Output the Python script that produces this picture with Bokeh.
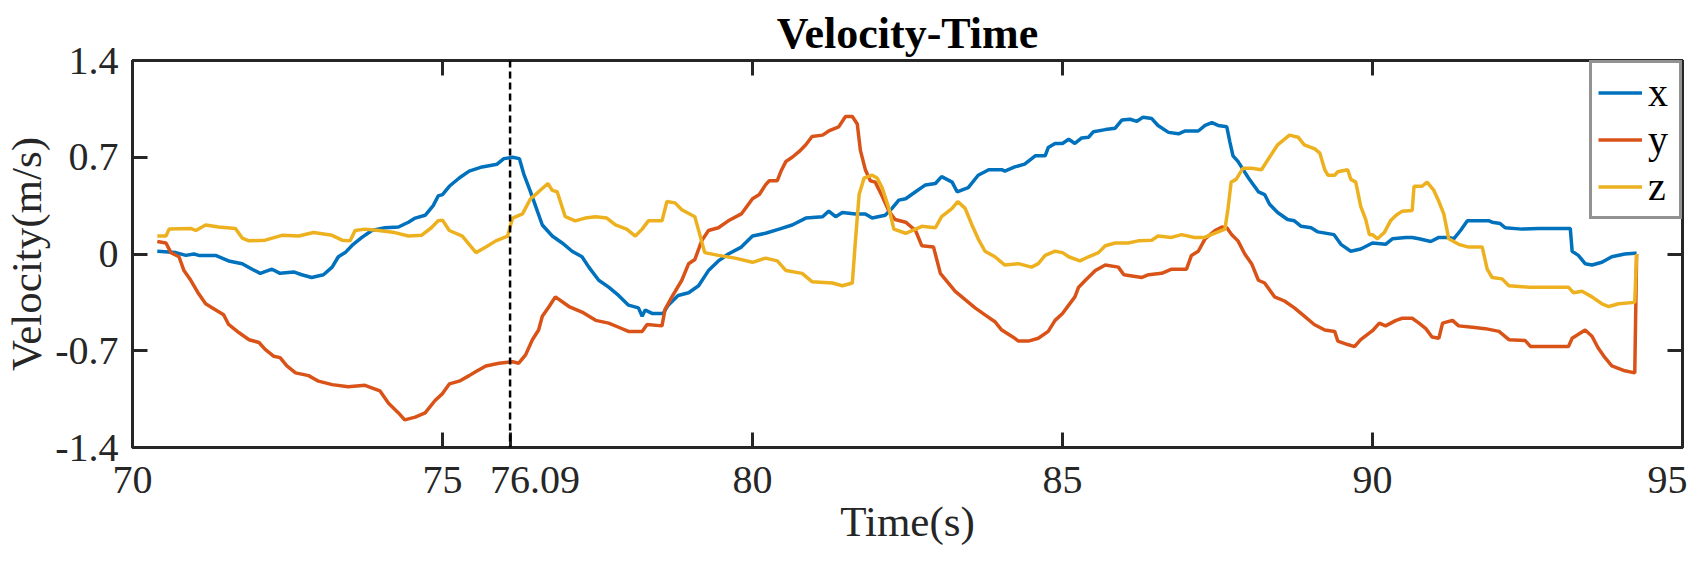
from bokeh.plotting import figure
from bokeh.models import (LinearAxis, FixedTicker, CustomJSTickFormatter, Span,
                          Range1d, Legend, LegendItem)
from bokeh.embed import file_html
from bokeh.resources import INLINE

# ---------------- data ----------------
t_x = [70.40, 70.70, 70.86, 70.99, 71.07, 71.34, 71.55, 71.77, 71.93, 72.06, 72.25, 72.38,
       72.60, 72.73, 72.89, 73.08, 73.22, 73.32, 73.43, 73.56, 73.70, 73.86, 74.07, 74.29,
       74.45, 74.56, 74.72, 74.85, 74.93, 75.00, 75.11, 75.27, 75.43, 75.64, 75.88, 75.99,
       76.13, 76.24, 76.31, 76.42, 76.53, 76.61, 76.77, 76.93, 77.09, 77.25, 77.36, 77.52,
       77.68, 77.84, 78.00, 78.16, 78.22, 78.27, 78.38, 78.56, 78.64, 78.80, 78.97, 79.13,
       79.29, 79.45, 79.61, 79.82, 80.00, 80.21, 80.43, 80.64, 80.86, 81.13, 81.23, 81.34,
       81.45, 81.66, 81.82, 81.93, 82.14, 82.25, 82.36, 82.47, 82.63, 82.79, 82.95, 83.05,
       83.22, 83.30, 83.48, 83.64, 83.81, 84.02, 84.07, 84.23, 84.39, 84.56, 84.72, 84.77,
       84.88, 85.00, 85.10, 85.20, 85.31, 85.42, 85.50, 85.69, 85.85, 85.96, 86.09, 86.20,
       86.30, 86.44, 86.54, 86.71, 86.87, 86.98, 87.19, 87.30, 87.41, 87.51, 87.65, 87.70,
       87.75, 87.83, 88.00, 88.16, 88.26, 88.34, 88.47, 88.63, 88.74, 88.85, 89.01, 89.12,
       89.38, 89.49, 89.65, 89.81, 90.00, 90.21, 90.32, 90.54, 90.64, 90.75, 90.94, 91.07,
       91.23, 91.31, 91.42, 91.53, 91.88, 91.93, 92.06, 92.14, 92.41, 92.68, 93.19, 93.22,
       93.32, 93.43, 93.54, 93.70, 93.86, 94.07, 94.23, 94.26]
v_x = [0.02, 0.01, -0.01, 0.0, -0.01, -0.01, -0.05, -0.07, -0.11, -0.14, -0.11, -0.14,
       -0.13, -0.15, -0.17, -0.15, -0.095, -0.02, 0.01, 0.07, 0.12, 0.17, 0.19, 0.195,
       0.23, 0.26, 0.28, 0.35, 0.42, 0.43, 0.49, 0.55, 0.60, 0.63, 0.65, 0.69,
       0.70, 0.69, 0.58, 0.45, 0.31, 0.21, 0.13, 0.08, 0.02, -0.02, -0.095, -0.19,
       -0.24, -0.30, -0.37, -0.39, -0.45, -0.405, -0.43, -0.43, -0.37, -0.30, -0.28, -0.23,
       -0.12, -0.05, 0.0, 0.05, 0.13, 0.15, 0.18, 0.21, 0.26, 0.27, 0.31, 0.27,
       0.30, 0.29, 0.29, 0.26, 0.28, 0.33, 0.39, 0.40, 0.45, 0.50, 0.51, 0.56,
       0.52, 0.45, 0.48, 0.57, 0.61, 0.61, 0.60, 0.63, 0.65, 0.71, 0.71, 0.77,
       0.80, 0.80, 0.83, 0.80, 0.84, 0.845, 0.885, 0.90, 0.91, 0.97, 0.975, 0.96,
       0.99, 0.98, 0.93, 0.88, 0.87, 0.89, 0.89, 0.93, 0.95, 0.93, 0.92, 0.81,
       0.71, 0.67, 0.55, 0.45, 0.43, 0.36, 0.30, 0.25, 0.24, 0.20, 0.19, 0.16,
       0.14, 0.07, 0.02, 0.036, 0.08, 0.07, 0.11, 0.12, 0.12, 0.11, 0.09, 0.12,
       0.12, 0.11, 0.17, 0.24, 0.24, 0.23, 0.22, 0.19, 0.18, 0.185, 0.185, 0.02,
       -0.01, -0.07, -0.08, -0.06, -0.02, 0.0, 0.005, 0.005]

t_y = [70.40, 70.54, 70.62, 70.75, 70.83, 70.94, 71.07, 71.18, 71.29, 71.47, 71.55, 71.72,
       71.88, 72.04, 72.14, 72.28, 72.38, 72.49, 72.63, 72.84, 73.00, 73.22, 73.48, 73.75,
       73.99, 74.13, 74.29, 74.39, 74.56, 74.72, 74.88, 75.00, 75.11, 75.27, 75.43, 75.54,
       75.70, 75.91, 76.13, 76.23, 76.34, 76.45, 76.55, 76.61, 76.72, 76.82, 77.04, 77.25,
       77.47, 77.68, 77.84, 78.00, 78.22, 78.30, 78.54, 78.59, 78.70, 78.86, 78.97, 79.07,
       79.18, 79.29, 79.45, 79.61, 79.82, 80.00, 80.11, 80.21, 80.27, 80.40, 80.46, 80.54,
       80.64, 80.75, 80.86, 80.96, 81.13, 81.23, 81.39, 81.50, 81.61, 81.69, 81.74, 81.82,
       81.90, 81.98, 82.09, 82.20, 82.30, 82.47, 82.63, 82.73, 82.92, 83.03, 83.16, 83.27,
       83.43, 83.59, 83.75, 83.91, 84.02, 84.23, 84.29, 84.45, 84.61, 84.77, 84.88, 85.00,
       85.10, 85.20, 85.26, 85.37, 85.53, 85.69, 85.90, 85.99, 86.28, 86.39, 86.60, 86.76,
       87.00, 87.08, 87.19, 87.30, 87.46, 87.57, 87.65, 87.73, 87.83, 87.94, 88.05, 88.16,
       88.26, 88.42, 88.58, 88.74, 88.90, 89.06, 89.23, 89.39, 89.44, 89.60, 89.71, 89.81,
       90.00, 90.11, 90.21, 90.38, 90.48, 90.64, 90.75, 90.86, 90.96, 91.07, 91.13, 91.29,
       91.39, 91.61, 91.82, 92.04, 92.20, 92.46, 92.55, 93.16, 93.22, 93.43, 93.54, 93.64,
       93.75, 93.86, 94.07, 94.23, 94.26]
v_y = [0.09, 0.08, 0.01, -0.02, -0.12, -0.19, -0.29, -0.36, -0.39, -0.44, -0.51, -0.57,
       -0.62, -0.64, -0.69, -0.74, -0.75, -0.81, -0.86, -0.88, -0.92, -0.945, -0.96, -0.95,
       -0.99, -1.08, -1.15, -1.20, -1.18, -1.15, -1.06, -1.01, -0.94, -0.92, -0.88, -0.85,
       -0.81, -0.79, -0.78, -0.79, -0.73, -0.62, -0.55, -0.45, -0.38, -0.31, -0.38, -0.42,
       -0.48, -0.50, -0.53, -0.56, -0.56, -0.51, -0.52, -0.40, -0.31, -0.19, -0.07, -0.04,
       0.095, 0.17, 0.19, 0.24, 0.29, 0.40, 0.43, 0.50, 0.53, 0.53, 0.60, 0.67,
       0.70, 0.74, 0.79, 0.85, 0.86, 0.89, 0.92, 0.995, 0.995, 0.94, 0.75, 0.61,
       0.53, 0.52, 0.42, 0.31, 0.25, 0.23, 0.17, 0.06, 0.05, -0.14, -0.21, -0.27,
       -0.33, -0.39, -0.44, -0.49, -0.55, -0.61, -0.63, -0.63, -0.61, -0.56, -0.48, -0.43,
       -0.37, -0.31, -0.24, -0.19, -0.12, -0.08, -0.095, -0.15, -0.17, -0.15, -0.14, -0.11,
       -0.11, -0.01, 0.02, 0.11, 0.17, 0.195, 0.19, 0.14, 0.095, 0.0, -0.07, -0.19,
       -0.21, -0.31, -0.34, -0.39, -0.45, -0.51, -0.55, -0.56, -0.63, -0.655, -0.67, -0.62,
       -0.555, -0.50, -0.52, -0.48, -0.465, -0.465, -0.50, -0.54, -0.60, -0.61, -0.50, -0.48,
       -0.52, -0.53, -0.54, -0.56, -0.62, -0.625, -0.67, -0.67, -0.61, -0.55, -0.595, -0.68,
       -0.75, -0.81, -0.845, -0.86, 0.0]

t_z = [70.40, 70.54, 70.59, 70.94, 71.02, 71.18, 71.39, 71.66, 71.77, 71.88, 72.14, 72.41,
       72.68, 72.92, 73.22, 73.38, 73.51, 73.59, 73.75, 73.97, 74.23, 74.45, 74.66, 74.82,
       74.93, 75.00, 75.11, 75.32, 75.43, 75.54, 75.70, 75.86, 76.05, 76.13, 76.29, 76.42,
       76.55, 76.70, 76.77, 76.85, 76.98, 77.14, 77.30, 77.47, 77.65, 77.79, 77.97, 78.11,
       78.22, 78.32, 78.54, 78.62, 78.75, 78.86, 79.07, 79.15, 79.23, 79.45, 79.72, 80.00,
       80.21, 80.40, 80.54, 80.80, 80.96, 81.29, 81.45, 81.61, 81.66, 81.72, 81.80, 81.93,
       82.01, 82.09, 82.20, 82.28, 82.47, 82.63, 82.73, 82.95, 83.05, 83.22, 83.31, 83.43,
       83.54, 83.64, 83.75, 83.91, 84.07, 84.29, 84.50, 84.61, 84.72, 84.88, 85.00, 85.10,
       85.28, 85.42, 85.58, 85.69, 85.85, 86.06, 86.22, 86.44, 86.54, 86.76, 86.92, 87.13,
       87.29, 87.45, 87.62, 87.67, 87.72, 87.80, 87.91, 88.05, 88.21, 88.31, 88.47, 88.66,
       88.80, 88.90, 89.07, 89.15, 89.23, 89.28, 89.39, 89.44, 89.60, 89.65, 89.73, 89.81,
       89.89, 89.95, 90.00, 90.08, 90.19, 90.29, 90.38, 90.48, 90.64, 90.67, 90.80, 90.88,
       90.99, 91.07, 91.15, 91.23, 91.39, 91.55, 91.77, 91.85, 91.93, 92.09, 92.20, 92.52,
       93.16, 93.24, 93.38, 93.54, 93.70, 93.81, 93.97, 94.23, 94.26]
v_z = [0.13, 0.13, 0.18, 0.185, 0.17, 0.21, 0.195, 0.185, 0.115, 0.095, 0.10, 0.135,
       0.13, 0.155, 0.135, 0.10, 0.095, 0.17, 0.18, 0.17, 0.155, 0.13, 0.135, 0.19,
       0.24, 0.245, 0.17, 0.13, 0.07, 0.01, 0.05, 0.095, 0.13, 0.26, 0.29, 0.40,
       0.45, 0.51, 0.46, 0.45, 0.27, 0.24, 0.26, 0.27, 0.26, 0.21, 0.18, 0.13,
       0.18, 0.24, 0.24, 0.38, 0.37, 0.32, 0.27, 0.14, 0.01, -0.01, -0.03, -0.06,
       -0.03, -0.05, -0.12, -0.14, -0.20, -0.21, -0.23, -0.21, 0.095, 0.43, 0.55, 0.57,
       0.55, 0.48, 0.33, 0.18, 0.15, 0.18, 0.20, 0.19, 0.27, 0.33, 0.38, 0.33,
       0.21, 0.11, 0.02, -0.02, -0.08, -0.07, -0.095, -0.07, -0.01, 0.02, 0.01, -0.02,
       -0.05, -0.02, 0.01, 0.06, 0.08, 0.08, 0.095, 0.10, 0.13, 0.12, 0.14, 0.12,
       0.12, 0.15, 0.18, 0.33, 0.52, 0.54, 0.62, 0.62, 0.61, 0.68, 0.79, 0.86,
       0.845, 0.79, 0.76, 0.73, 0.61, 0.57, 0.57, 0.595, 0.61, 0.54, 0.52, 0.345,
       0.25, 0.14, 0.14, 0.11, 0.155, 0.24, 0.28, 0.31, 0.315, 0.49, 0.49, 0.52,
       0.46, 0.38, 0.29, 0.11, 0.07, 0.05, 0.05, -0.11, -0.17, -0.18, -0.23, -0.24,
       -0.24, -0.28, -0.27, -0.31, -0.36, -0.38, -0.36, -0.35, 0.0]

series_names = ["x", "y", "z"]
series_colors = ["#0072BD", "#D95319", "#EDB120"]
marker_time = 76.09
marker_label = "76.09"
x_ticks = [70, 75, marker_time, 80, 85, 90, 95]
x_ticks_top = [70, 75, 80, 85, 90, 95]
y_ticks = [-1.4, -0.7, 0, 0.7, 1.4]

# ---------------- figure ----------------
FONT = "Liberation Serif"
AX = "#262626"

p = figure(width=1687, height=547, output_backend="svg", toolbar_location=None,
           x_range=Range1d(70, 95), y_range=Range1d(-1.4, 1.4),
           min_border_left=129, min_border_right=5, min_border_top=60, min_border_bottom=95,
           x_axis_label="Time(s)", y_axis_label="Velocity(m/s)")
p.background_fill_color = "white"
p.border_fill_color = "white"
p.grid.visible = False
p.outline_line_color = AX
p.outline_line_width = 3

p.title.text = "Velocity-Time"
p.title.text_font = FONT
p.title.text_font_style = "bold"
p.title.text_font_size = "44px"
p.title.text_color = "black"
p.title.align = "center"
p.title.standoff = 6

# the marker label sits a little to the right of its tick (as in the reference),
# done by padding it with leading no-break spaces
xfmt = CustomJSTickFormatter(args=dict(mt=marker_time, lab=marker_label), code="""
    const v = Math.round(tick*100)/100;
    if (Math.abs(v - mt) < 1e-6) return "\\u00a0\\u00a0\\u00a0\\u00a0\\u00a0" + lab;
    return String(v);
""")
yfmt = CustomJSTickFormatter(code="return String(Math.round(tick*100)/100);")

xa = p.xaxis[0]
xa.ticker = FixedTicker(ticks=x_ticks)
xa.formatter = xfmt
ya = p.yaxis[0]
ya.ticker = FixedTicker(ticks=y_ticks)
ya.formatter = yfmt
for ax in (xa, ya):
    ax.axis_line_color = None
    ax.major_tick_in = 15
    ax.major_tick_out = 0
    ax.major_tick_line_width = 3
    ax.major_tick_line_color = AX
    ax.minor_tick_line_color = None
    ax.major_label_text_font = FONT
    ax.major_label_text_font_size = "40px"
    ax.major_label_text_color = AX
    ax.axis_label_text_font = FONT
    ax.axis_label_text_font_size = "43px"
    ax.axis_label_text_font_style = "normal"
    ax.axis_label_text_color = AX
xa.major_label_standoff = 9
xa.axis_label_standoff = -7
ya.major_label_standoff = 14
ya.axis_label_standoff = 2

blank = CustomJSTickFormatter(code="return '';")
top = LinearAxis(ticker=FixedTicker(ticks=x_ticks_top), formatter=blank,
                 major_label_text_font_size="1px", major_label_text_color=None,
                 major_label_standoff=0, axis_line_color=None, major_tick_in=15,
                 major_tick_out=0, major_tick_line_width=3, major_tick_line_color=AX,
                 minor_tick_line_color=None)
right = LinearAxis(ticker=FixedTicker(ticks=y_ticks), formatter=blank,
                   major_label_text_font_size="1px", major_label_text_color=None,
                   major_label_standoff=0, axis_line_color=None, major_tick_in=15,
                   major_tick_out=0, major_tick_line_width=3, major_tick_line_color=AX,
                   minor_tick_line_color=None)
p.add_layout(top, "above")
p.add_layout(right, "right")

p.add_layout(Span(location=marker_time, dimension="height", line_color="black",
                  line_width=2.5, line_dash="7 4"))

items = []
for name, tt, vv, col in zip(series_names, [t_x, t_y, t_z], [v_x, v_y, v_z], series_colors):
    r = p.line(tt, vv, line_color=col, line_width=3.5)
    items.append(LegendItem(label=name, renderers=[r]))

legend = Legend(items=items, location="top_right", margin=0, padding=6, spacing=0,
                label_height=45, glyph_height=45, glyph_width=44, label_width=25,
                label_standoff=6, label_text_font=FONT, label_text_font_size="40px",
                label_text_color="black", border_line_color=AX, border_line_width=3,
                background_fill_color="white", background_fill_alpha=1.0)
p.add_layout(legend, "center")

open("out.html", "w").write(file_html(p, INLINE))
